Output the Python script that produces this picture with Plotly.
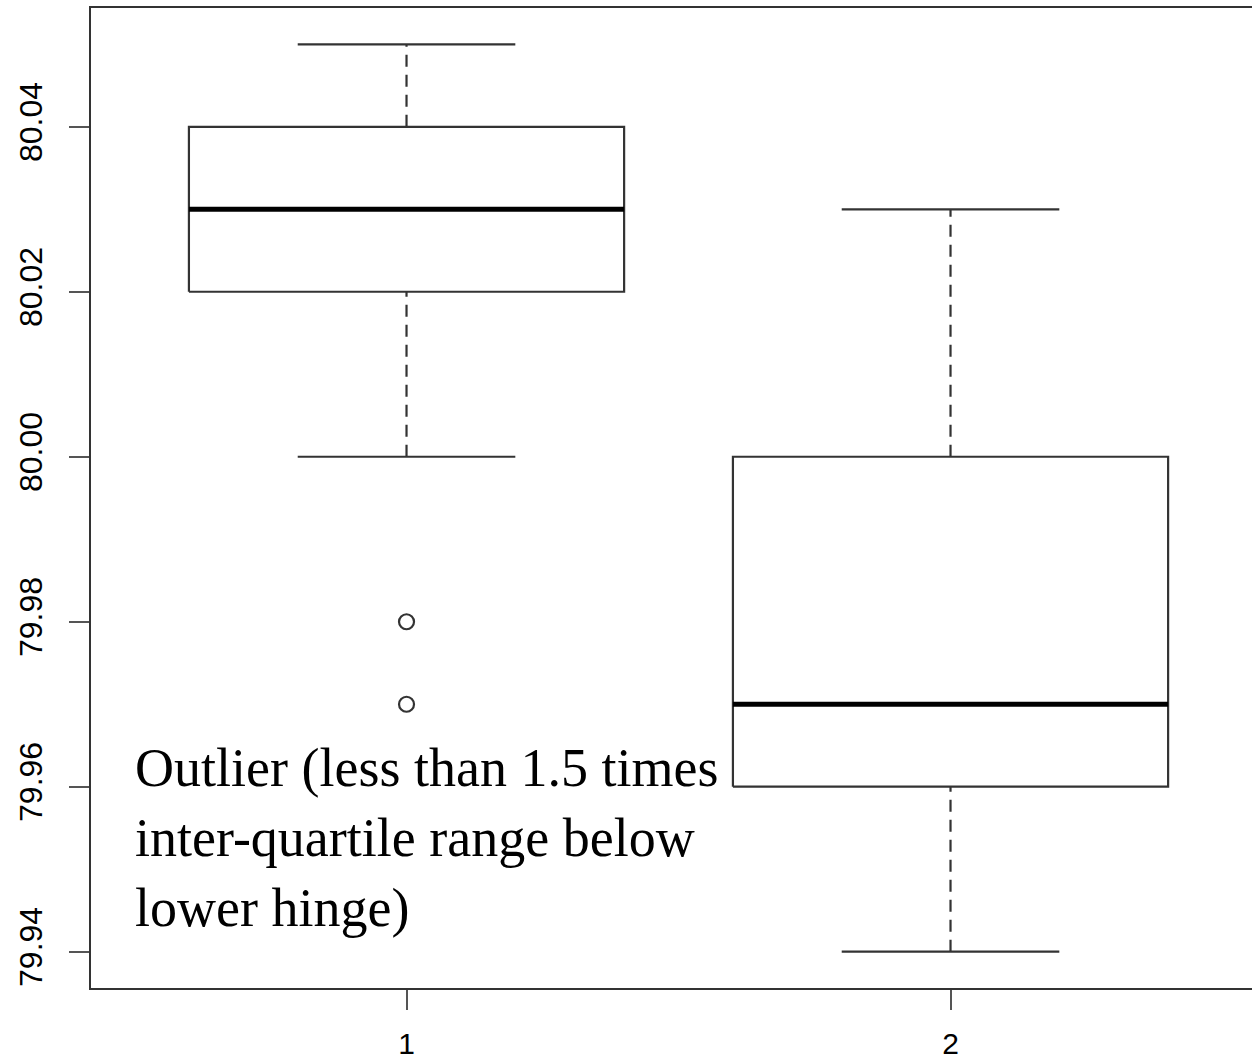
import plotly.graph_objects as go

groups = [1, 2]
tick_labels = ["1", "2"]
lower_whisker = [80.00, 79.94]
q1 = [80.02, 79.96]
median = [80.03, 79.97]
q3 = [80.04, 80.00]
upper_whisker = [80.05, 80.03]
outlier_x = [1, 1]
outlier_y = [79.98, 79.97]
y_ticks = [79.94, 79.96, 79.98, 80.00, 80.02, 80.04]
y_tick_labels = ["79.94", "79.96", "79.98", "80.00", "80.02", "80.04"]
note = "Outlier (less than 1.5 times<br>inter-quartile range below<br>lower hinge)"

BOX_HALF = 0.4
CAP_HALF = 0.2
LINE_COL = "#333333"
LW = 2.2

fig = go.Figure()

for i, g in enumerate(groups):
    # dashed whiskers
    fig.add_trace(go.Scatter(x=[g, g], y=[q3[i], upper_whisker[i]], mode="lines",
                             line=dict(color=LINE_COL, width=LW, dash="12px,8px"),
                             showlegend=False, hoverinfo="skip"))
    fig.add_trace(go.Scatter(x=[g, g], y=[lower_whisker[i], q1[i]], mode="lines",
                             line=dict(color=LINE_COL, width=LW, dash="12px,8px"),
                             showlegend=False, hoverinfo="skip"))
    # caps
    for v in (lower_whisker[i], upper_whisker[i]):
        fig.add_trace(go.Scatter(x=[g - CAP_HALF, g + CAP_HALF], y=[v, v], mode="lines",
                                 line=dict(color=LINE_COL, width=LW),
                                 showlegend=False, hoverinfo="skip"))
    # box
    fig.add_trace(go.Scatter(x=[g - BOX_HALF, g + BOX_HALF, g + BOX_HALF, g - BOX_HALF, g - BOX_HALF],
                             y=[q1[i], q1[i], q3[i], q3[i], q1[i]], mode="lines",
                             line=dict(color=LINE_COL, width=LW),
                             fill="toself", fillcolor="white",
                             showlegend=False, hoverinfo="skip"))
    # median
    fig.add_trace(go.Scatter(x=[g - BOX_HALF, g + BOX_HALF], y=[median[i], median[i]], mode="lines",
                             line=dict(color="black", width=5),
                             showlegend=False, hoverinfo="skip"))

fig.add_trace(go.Scatter(x=outlier_x, y=outlier_y, mode="markers",
                         marker=dict(symbol="circle-open", size=15, color=LINE_COL,
                                     line=dict(width=2.2)),
                         showlegend=False, hoverinfo="skip"))

fig.add_annotation(x=0.497, y=79.9538, xref="x", yref="y", text=note, showarrow=False,
                   xanchor="left", yanchor="middle", align="left",
                   font=dict(family="Liberation Serif, Times New Roman, serif", size=54, color="black"))

W, H = 1252, 1060
L, T, B = 91, 8, 72
px_per_unit = 544.0
x0 = 0.42
x1 = x0 + (W - L) / px_per_unit

fig.update_layout(
    width=W, height=H,
    margin=dict(l=L, r=0, t=T, b=B, pad=0),
    plot_bgcolor="white", paper_bgcolor="white",
    showlegend=False,
    xaxis=dict(range=[x0, x1], tickvals=groups, ticktext=tick_labels,
               showgrid=False, zeroline=False, showline=True, mirror=True,
               linecolor=LINE_COL, linewidth=2, ticks="outside", ticklen=20,
               tickwidth=2, tickcolor="#555555",
               tickfont=dict(family="Liberation Sans, Arial, sans-serif", size=30, color="black"),
               ticklabelstandoff=8),
    yaxis=dict(range=[79.9356, 80.0544], tickvals=y_ticks, ticktext=y_tick_labels,
               showgrid=False, zeroline=False, showline=True, mirror=False,
               linecolor=LINE_COL, linewidth=2, ticks="outside", ticklen=20,
               tickwidth=2, tickcolor="#555555", tickangle=-90,
               tickfont=dict(family="Liberation Sans, Arial, sans-serif", size=32, color="black"),
               ticklabelstandoff=14),
)

fig.write_html("out.html", config={"displayModeBar": False},
               post_script="document.body.style.margin='0px';document.body.style.overflow='hidden';document.documentElement.style.overflow='hidden';")
